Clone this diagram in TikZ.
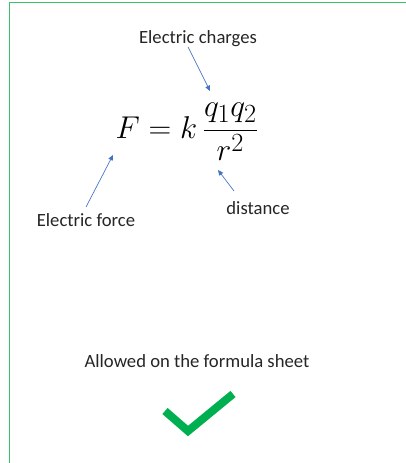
\documentclass[tikz,border=0pt]{standalone}
\usepackage{amsmath}
\usepackage{fontspec}
\setmainfont{Carlito}
\usetikzlibrary{arrows.meta,positioning}
\definecolor{FrameGreen}{HTML}{3CBF6A}
\definecolor{ArrowBlue}{HTML}{4472C4}
\definecolor{TickGreen}{HTML}{00B050}
\definecolor{InkGray}{HTML}{262626}
\tikzset{
  lbl/.style={font=\fontsize{14}{16}\selectfont,text=InkGray,inner sep=0pt},
  pointer/.style={draw=ArrowBlue,line width=0.5pt,-{Triangle[length=4pt,width=3.5pt]}}}

\begin{document}
\begin{tikzpicture}[x=0.75pt,y=-0.75pt]
  \useasboundingbox (0,0) rectangle (406,463);
  \fill[white] (0,0) rectangle (406,463);
  \draw[FrameGreen,line width=0.9pt] (406,2.5)--(9.5,2.5)--(9.5,463);
  % formula
  \node[font=\fontsize{24.88}{28}\selectfont,inner sep=0pt,scale=0.95,transform shape]
    (law) at (187,132) {$F = k\,\dfrac{q_1q_2}{r^2}$};
  % labels
  \node[lbl] (charges) at (198,39) {Electric charges};
  \node[lbl] (force) at (86,220) {Electric force};
  \node[lbl] (dist) at (258,208) {distance};
  \node[lbl] (allowed) at (197,361) {Allowed on the formula sheet};
  % pointers
  \coordinate (chargesTail) at (188,47);
  \coordinate (chargesTip) at (210,91);
  \coordinate (forceTail) at (86,207);
  \coordinate (forceTip) at (113,155);
  \coordinate (distTail) at (234,191);
  \coordinate (distTip) at (218,170);
  \draw[pointer] (chargesTail) -- (chargesTip);
  \draw[pointer] (forceTail) -- (forceTip);
  \draw[pointer] (distTail) -- (distTip);
  % tick
  \draw[TickGreen,line width=6pt,miter limit=10] (165,411)--(188,431)--(233,394);
\end{tikzpicture}
\end{document}
